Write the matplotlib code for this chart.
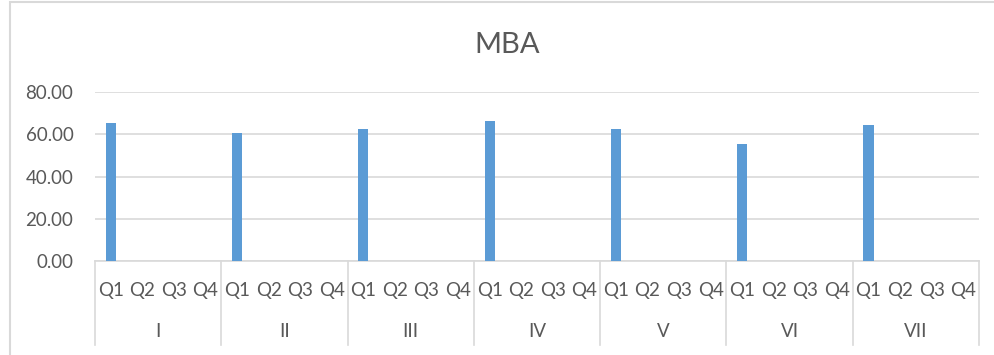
import matplotlib
matplotlib.use("Agg")
from matplotlib import pyplot as plt
from matplotlib.patches import Rectangle
import matplotlib.transforms as mtransforms
import numpy as np

# MBA scores per semester, only Q1 filled in
semesters = ["I", "II", "III", "IV", "V", "VI", "VII"]
quarters = ["Q1", "Q2", "Q3", "Q4"]
q1_scores = [65.4, 60.5, 62.6, 66.4, 62.4, 55.4, 64.5]

plt.rcParams['font.family'] = ['Lato', 'DejaVu Sans']
text_col = '#595959'
grid_col = '#D9D9D9'
bar_col = '#5B9BD5'

fig = plt.figure(figsize=(9.94, 3.55), dpi=100)
ax = fig.add_axes([95 / 994, 94.3 / 355, 884 / 994, 168.4 / 355])

# one slot per quarter, nan where there is no value
values = []
for s in q1_scores:
    values += [s, np.nan, np.nan, np.nan]
x = np.arange(len(values))
ax.bar(x, np.nan_to_num(values), width=0.32, color=bar_col, zorder=3)

ax.set_xlim(-0.5, len(values) - 0.5)
ax.set_ylim(0, 80)
ax.set_yticks([0, 20, 40, 60, 80])
ax.set_yticklabels(["%.2f" % v for v in [0, 20, 40, 60, 80]])
ax.tick_params(axis='y', length=0, pad=15.5, labelsize=13.5, labelcolor=text_col)
ax.set_xticks([])
ax.yaxis.grid(True, color=grid_col, linewidth=1.2, zorder=0)
for side in ['top', 'right', 'left']:
    ax.spines[side].set_visible(False)
ax.spines['bottom'].set_color(grid_col)
ax.spines['bottom'].set_linewidth(1.2)

# two level category axis
trans = mtransforms.blended_transform_factory(ax.transData, ax.transAxes)
for i in range(len(semesters) + 1):
    xb = i * 4 - 0.5
    ax.plot([xb, xb], [0, -0.50], transform=trans, color=grid_col,
            linewidth=1.2, clip_on=False)
for i, q in enumerate(quarters * len(semesters)):
    ax.text(i, -0.174, q, transform=trans, ha='center', va='center',
            fontsize=13.5, color=text_col)
for i, s in enumerate(semesters):
    ax.text(i * 4 + 1.5, -0.423, s, transform=trans, ha='center', va='center',
            fontsize=13.5, color=text_col)

# title centred on the whole chart area
fig.text(507 / 994, (355 - 53) / 355, "MBA", ha='center', va='baseline',
         fontsize=21, color=text_col)

# chart area border
fig.patches.append(Rectangle((9.5 / 994, -0.1), 1.2, 1.1 - 2.5 / 355,
                             transform=fig.transFigure, fill=False,
                             edgecolor=grid_col, linewidth=1.5))

fig.savefig("out.png", dpi=100)
